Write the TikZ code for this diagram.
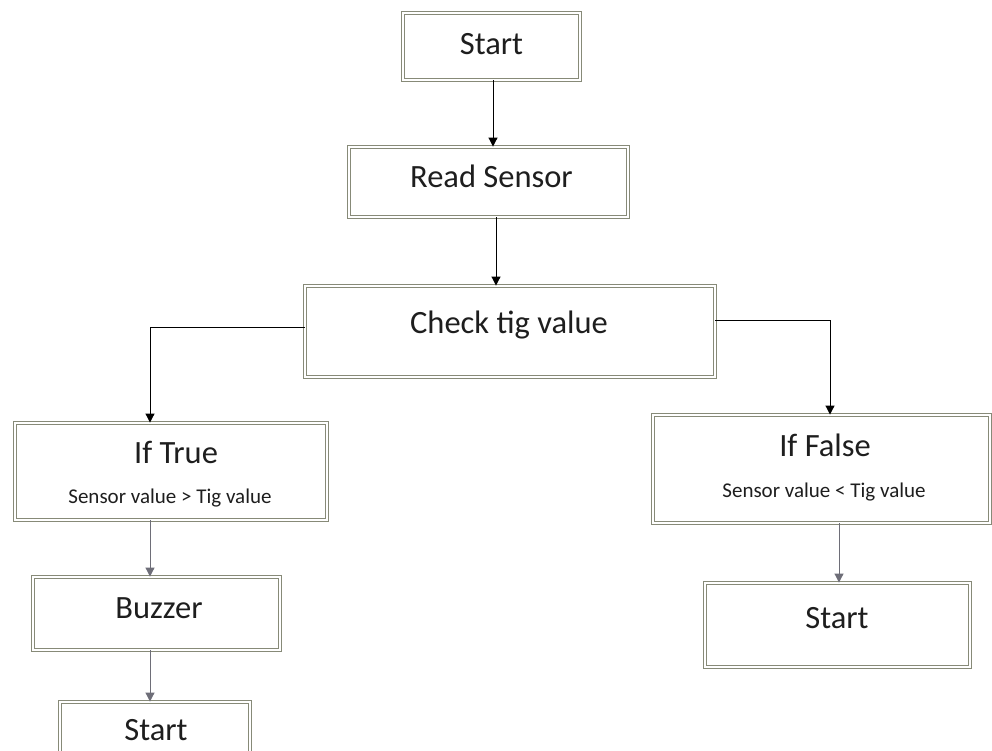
\documentclass[tikz,border=0pt]{standalone}
\usepackage{fontspec}
\setmainfont{Carlito}
\usetikzlibrary{arrows.meta}
\definecolor{frame}{RGB}{135,138,120}
\definecolor{txt}{RGB}{30,30,30}
\definecolor{garrow}{RGB}{110,110,120}
\tikzset{
  box/.style={draw=frame, double=white, double distance=2.6pt, line width=0.9pt, rectangle, inner sep=0pt},
  lbl/.style={text=txt, font=\fontsize{32.5}{36}\selectfont, inner sep=0pt},
  sml/.style={text=txt, font=\fontsize{21}{24}\selectfont, inner sep=0pt},
  arr/.style={draw=black, line width=1pt, -{Triangle[length=9pt,width=9pt]}},
  garr/.style={draw=garrow, line width=1pt, -{Triangle[length=9pt,width=9pt]}}
}
\begin{document}
\begin{tikzpicture}[x=1pt,y=-1pt]
\useasboundingbox[fill=white] (0,0) rectangle (992,751);
% boxes
\node[box, minimum width=177pt, minimum height=67pt] (start) at (491.5,46.5) {};
\node[box, minimum width=279pt, minimum height=70pt] (read) at (488.5,182) {};
\node[box, minimum width=410pt, minimum height=91pt] (check) at (510,331.5) {};
\node[box, minimum width=312pt, minimum height=97pt] (iftrue) at (171,471.5) {};
\node[box, minimum width=337pt, minimum height=108pt] (iffalse) at (821.5,469) {};
\node[box, minimum width=247pt, minimum height=73pt] (buzzer) at (156.5,613.5) {};
\node[box, minimum width=265pt, minimum height=84pt] (start2) at (837.5,625) {};
\node[box, minimum width=190pt, minimum height=60pt] (start3) at (155,732) {};
% texts
\node[lbl] (tstart) at (491.5,44) {Start};
\node[lbl] (tread) at (491.5,176) {Read Sensor};
\node[lbl] (tcheck) at (509,325) {Check tig value};
\node[lbl] (ttrue) at (176,452) {If True};
\node[sml] (ttrue2) at (170,498) {Sensor value > Tig value};
\node[lbl] (tfalse) at (825,445) {If False};
\node[sml] (tfalse2) at (824,492) {Sensor value < Tig value};
\node[lbl] (tbuzz) at (159,608) {Buzzer};
\node[lbl] (tstart2) at (837,618) {Start};
\node[lbl] (tstart3) at (156,730) {Start};
% connectors
\coordinate (a1) at (493,0);
\draw[arr] (a1 |- start.south) -- (a1 |- read.north);
\coordinate (a2) at (496,0);
\draw[arr] (a2 |- read.south) -- (a2 |- check.north);
\coordinate (cl) at (150,327);
\draw[arr] (check.west |- cl) -- (cl) -- (cl |- iftrue.north);
\coordinate (cr) at (830,320);
\draw[arr] (check.east |- cr) -- (cr) -- (cr |- iffalse.north);
\coordinate (tx) at (150,0);
\draw[garr] (tx |- iftrue.south) -- (tx |- buzzer.north);
\draw[garr] (tx |- buzzer.south) -- (tx |- start3.north);
\coordinate (fx) at (839,0);
\draw[garr] (fx |- iffalse.south) -- (fx |- start2.north);
\end{tikzpicture}
\end{document}
